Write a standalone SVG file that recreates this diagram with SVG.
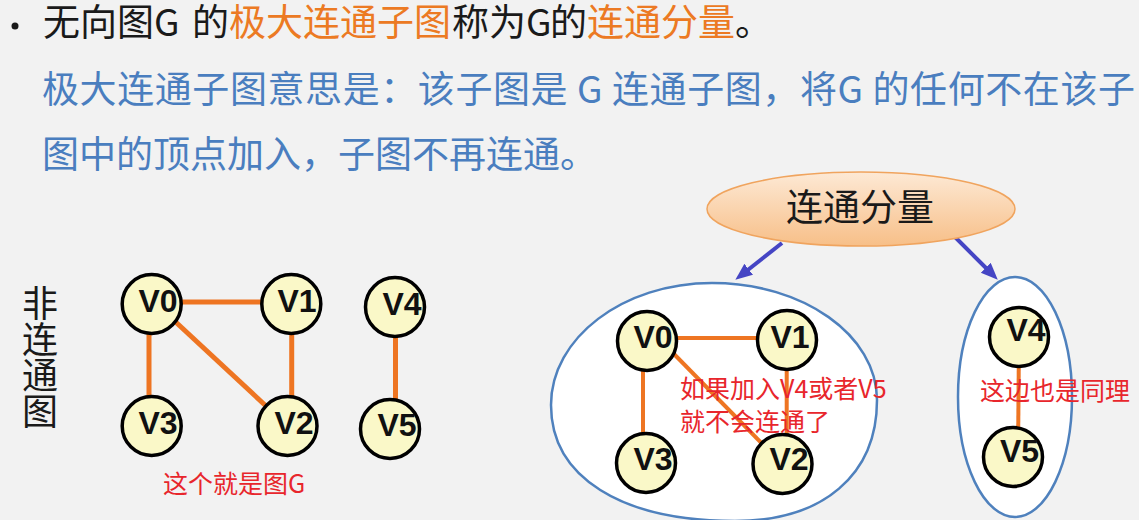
<svg xmlns="http://www.w3.org/2000/svg" width="1139" height="520" viewBox="0 0 1139 520">
<defs>
<style>
.cjk{font-family:"Noto Sans CJK SC","Noto Sans",sans-serif}
.t{font-size:37px;fill:#1a1a1a}
.or{fill:#ec7a23}
.bl{font-size:37px;fill:#4a7ebf}
.red{font-size:25px;fill:#e8262c}
.node circle{fill:#faf8c8;stroke:#000;stroke-width:3.5}
.node text{font-family:"Liberation Sans",Arial,sans-serif;font-weight:bold;font-size:32px;fill:#111;text-anchor:middle}
.e5{stroke:#ee7522;stroke-width:5;fill:none}
.e4{stroke:#ee7522;stroke-width:4;fill:none}
.cont{fill:#ffffff;stroke:#4f81bd;stroke-width:2.5}
.arr{stroke:#4545c4;stroke-width:4;fill:none;marker-end:url(#ah)}
</style>
<linearGradient id="og" x1="0" y1="0" x2="0" y2="1">
<stop offset="0" stop-color="#fde9d5"/>
<stop offset="1" stop-color="#f7bf88"/>
</linearGradient>
<marker id="ah" markerUnits="userSpaceOnUse" markerWidth="18" markerHeight="16" refX="6" refY="7" orient="auto">
<path d="M0,0 L17,7 L0,14 z" fill="#4545c4"/>
</marker>
</defs>
<rect width="1139" height="520" fill="#f2f2f2"/>

<g id="header">
<circle cx="15" cy="26" r="3.5" fill="#1a1a1a"/>
<text class="cjk t" x="43" y="36">无向图G<tspan x="192">的</tspan><tspan x="229" class="or">极大连通子图</tspan><tspan x="452">称为G</tspan><tspan x="550">的</tspan><tspan x="587" class="or">连通分量</tspan><tspan>。</tspan></text>
<text class="cjk bl" x="42" y="103" textLength="1093" lengthAdjust="spacing">极大连通子图意思是：该子图是 G 连通子图，将G 的任何不在该子</text>
<text class="cjk bl" x="42" y="168">图中的顶点加入，子图不再连通。</text>
</g>

<g id="label-nonconnected">
<text class="cjk" x="40" y="285" font-size="36" fill="#1a1a1a" writing-mode="vertical-rl">非连通图</text>
</g>

<g id="graphG-edges">
<line class="e5" x1="152" y1="302" x2="291" y2="302"/>
<line class="e5" x1="149" y1="304" x2="149" y2="426"/>
<line class="e5" x1="291.7" y1="304" x2="291.7" y2="426"/>
<line class="e5" x1="152" y1="300" x2="287.5" y2="426"/>
<line class="e5" x1="395.5" y1="307" x2="395.5" y2="429"/>
</g>
<g id="G-V0" class="node"><circle cx="151.7" cy="304" r="29.5"/><text x="158" y="312">V0</text></g>
<g id="G-V1" class="node"><circle cx="291.3" cy="304" r="29.5"/><text x="297" y="312">V1</text></g>
<g id="G-V4" class="node"><circle cx="395" cy="307" r="29.5"/><text x="402" y="315">V4</text></g>
<g id="G-V3" class="node"><circle cx="151.7" cy="426" r="29.5"/><text x="158" y="434">V3</text></g>
<g id="G-V2" class="node"><circle cx="287.5" cy="426" r="29.5"/><text x="294" y="434">V2</text></g>
<g id="G-V5" class="node"><circle cx="390" cy="429" r="29.5"/><text x="397" y="436">V5</text></g>
<text id="note-G" class="cjk red" x="163" y="493" font-size="24">这个就是图G</text>

<g id="component-1">
<path class="cont" d="M712,283 C803,283 877,335 877,400 C877,475 823,521 735,521 C621,521 551,477 551,405 C551,338 623,283 712,283 Z"/>
</g>
<g id="component-2">
<ellipse class="cont" cx="1015" cy="397" rx="57" ry="120"/>
</g>

<g id="comp-edges">
<line class="e4" x1="647" y1="338" x2="787" y2="338"/>
<line class="e4" x1="643" y1="341" x2="643" y2="463"/>
<line class="e4" x1="786.7" y1="340" x2="786.7" y2="464"/>
<line class="e4" x1="672" y1="352" x2="782" y2="464"/>
<line class="e4" x1="1019" y1="337" x2="1018" y2="457"/>
</g>
<g id="C-V0" class="node"><circle cx="647" cy="341" r="29.5"/><text x="653" y="348">V0</text></g>
<g id="C-V1" class="node"><circle cx="787" cy="340" r="29.5"/><text x="790" y="348">V1</text></g>
<g id="C-V3" class="node"><circle cx="646" cy="463" r="29.5"/><text x="653" y="470">V3</text></g>
<g id="C-V2" class="node"><circle cx="782.5" cy="464" r="29.5"/><text x="789" y="470">V2</text></g>
<g id="C-V4" class="node"><circle cx="1019" cy="337" r="29.5"/><text x="1026" y="341">V4</text></g>
<g id="C-V5" class="node"><circle cx="1013" cy="457" r="29.5"/><text x="1019.5" y="462">V5</text></g>

<text id="note-1" class="cjk red" x="680" y="398">如果加入V4或者V5</text>
<text id="note-1b" class="cjk red" x="680" y="431">就不会连通了</text>
<text id="note-2" class="cjk red" x="980" y="400">这边也是同理</text>

<g id="connectors">
<line class="arr" x1="782" y1="243" x2="744" y2="273"/>
<line class="arr" x1="953" y1="235" x2="990" y2="272"/>
</g>

<g id="root-node">
<ellipse cx="861" cy="209" rx="154" ry="37" fill="url(#og)" stroke="#f0a45e" stroke-width="1.5"/>
<text class="cjk" x="860" y="221" font-size="37" fill="#1a1a1a" text-anchor="middle">连通分量</text>
</g>
</svg>
